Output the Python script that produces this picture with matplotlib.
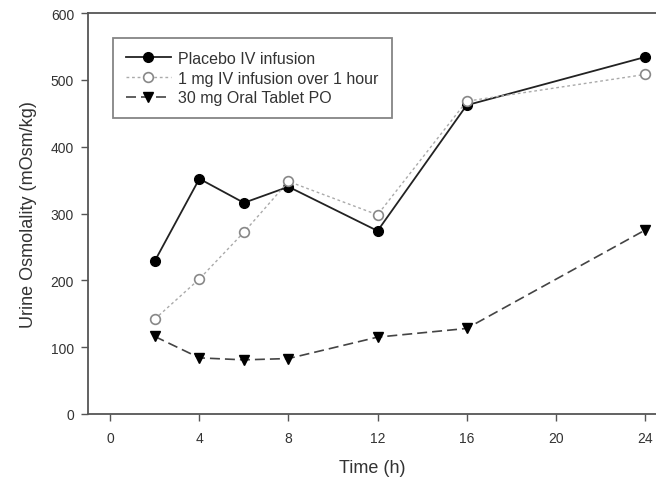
import matplotlib
matplotlib.use('Agg')
import matplotlib.pyplot as plt

# Data
time_h = [2, 4, 6, 8, 12, 16, 24]
placebo = [229, 352, 316, 340, 274, 462, 534]
iv_1mg = [142, 202, 272, 348, 298, 468, 508]
oral_30mg = [116, 84, 81, 83, 115, 128, 275]

x_ticks = [0, 4, 8, 12, 16, 20, 24]
y_ticks = [0, 100, 200, 300, 400, 500, 600]

plt.rcParams['font.family'] = ['Liberation Sans', 'DejaVu Sans']

fig = plt.figure(figsize=(6.56, 4.85), dpi=100)
ax = fig.add_axes([88 / 656, 70 / 485, 568 / 656, 401 / 485])

ax.plot(time_h, placebo, color='#222222', lw=1.3, marker='o', ms=7,
        mfc='black', mec='black', label='Placebo IV infusion')
ax.plot(time_h, iv_1mg, color='#aaaaaa', lw=1.0, ls=(0, (2, 2)), marker='o', ms=7,
        mfc='white', mec='#888888', mew=1.2, label='1 mg IV infusion over 1 hour')
ax.plot(time_h, oral_30mg, color='#444444', lw=1.2, ls=(0, (6, 3)), marker='v', ms=7,
        mfc='black', mec='black', label='30 mg Oral Tablet PO')

ax.set_xlim(-1, 24.5)
ax.set_ylim(0, 600)
ax.set_xticks(x_ticks)
ax.set_yticks(y_ticks)
ax.spines['right'].set_visible(False)
for s in ['left', 'bottom', 'top']:
    ax.spines[s].set_color('#555555')
    ax.spines[s].set_linewidth(1.3)
ax.tick_params(direction='out', length=5, width=1, colors='#555555',
               labelcolor='#333333', labelsize=10)
ax.tick_params(axis='x', pad=7)
ax.tick_params(axis='y', pad=5)

ax.set_xlabel('Time (h)', fontsize=13, color='#333333', labelpad=10)
ax.set_ylabel('Urine Osmolality (mOsm/kg)', fontsize=13, color='#333333', labelpad=10)

leg = ax.legend(loc='upper left', bbox_to_anchor=(25 / 568, 1 - 25 / 401), fontsize=11.5,
                frameon=True, fancybox=False, borderpad=0.8, labelspacing=0.3,
                handlelength=2.8, handletextpad=0.5, borderaxespad=0)
leg.get_frame().set_edgecolor('#666666')
leg.get_frame().set_linewidth(1.3)
for t in leg.get_texts():
    t.set_color('#333333')

fig.savefig('out.png', dpi=100)
